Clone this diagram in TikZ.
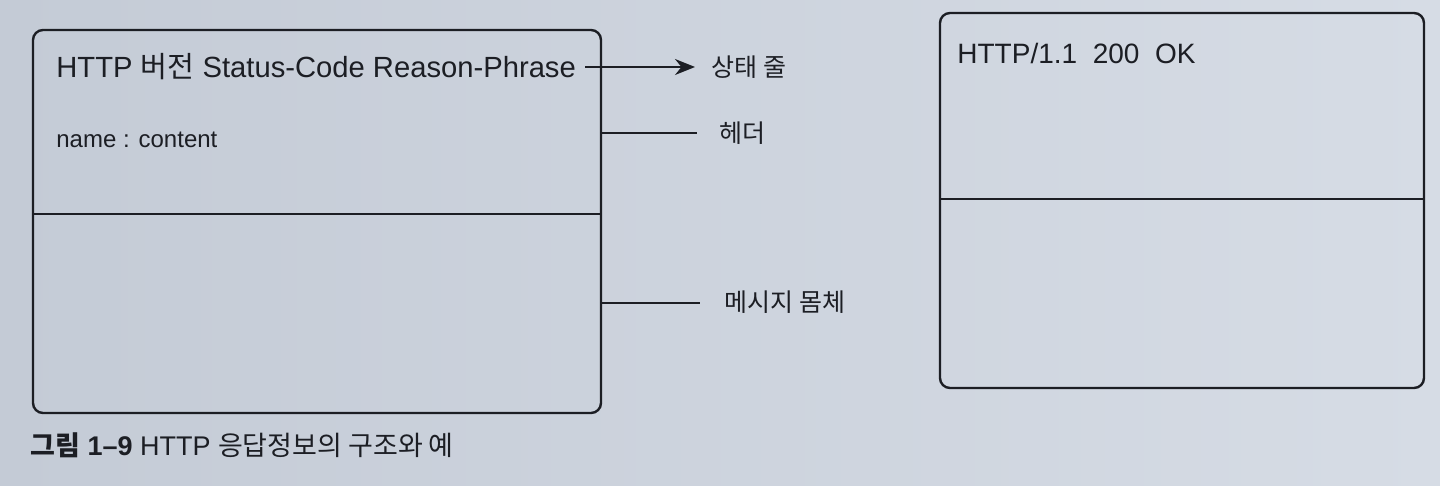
\documentclass[tikz,border=0pt]{standalone}
\usepackage{fontspec}
\setmainfont{Liberation Sans}
\newfontfamily\kr{Noto Sans CJK KR}
\usetikzlibrary{arrows.meta}
\definecolor{paperL}{RGB}{196,203,214}
\definecolor{paperR}{RGB}{214,220,229}
\definecolor{ink}{RGB}{28,30,36}
\tikzset{
  boxline/.style={draw=ink, line width=1.2pt, rounded corners=5pt, rectangle, inner sep=0pt},
  divline/.style={draw=ink, line width=1.2pt},
  conn/.style={draw=ink, line width=1.1pt},
  arrowconn/.style={conn, -{Stealth[length=10pt,width=8pt]}},
  maintext/.style={text=ink, font=\fontsize{14.6}{17}\selectfont, anchor=west, inner sep=0pt},
  extext/.style={text=ink, font=\fontsize{14}{16}\selectfont, anchor=west, inner sep=0pt},
  smalltext/.style={text=ink, font=\fontsize{12}{14}\selectfont, anchor=west, inner sep=0pt},
  labeltext/.style={text=ink, font=\kr\fontsize{12.5}{15}\selectfont, anchor=west, inner sep=0pt},
  captext/.style={text=ink, font=\fontsize{13.5}{16}\selectfont, anchor=west, inner sep=0pt},
}
\begin{document}
\begin{tikzpicture}[x=0.5pt,y=-0.5pt]
  \shade[left color=paperL, right color=paperR] (0,0) rectangle (1440,486);
  \useasboundingbox (0,0) rectangle (1440,486);

  % left box
  \node[boxline, minimum width=284pt, minimum height=191.5pt] (L) at (317,221.5) {};
  \coordinate (Ldl) at (33,214);
  \coordinate (Ldr) at (601,214);
  \draw[divline] (Ldl) -- (Ldr);

  % right box
  \node[boxline, minimum width=242pt, minimum height=187.5pt] (R) at (1182,200.5) {};
  \coordinate (Rdl) at (940,199);
  \coordinate (Rdr) at (1424,199);
  \draw[divline] (Rdl) -- (Rdr);

  % texts in boxes
  \node[maintext] (status) at (56,67) {HTTP {\kr 버전} Status-Code Reason-Phrase};
  \node[smalltext] (hdr) at (56,140) {name : content};
  \node[extext] (ex) at (957,53) {HTTP/1.1\ \ 200\ \ OK};

  % labels
  \node[labeltext] (lstatus) at (711,67) {상태 줄};
  \node[labeltext] (lheader) at (719,133) {헤더};
  \node[labeltext] (lbody) at (724,302) {메시지 몸체};

  % connectors
  \coordinate (sA) at (585,67);
  \draw[arrowconn] (sA) -- ([xshift=-8pt]lstatus.west);
  \coordinate (hA) at (601,133);
  \draw[conn] (hA) -- ([xshift=-11pt]lheader.west);
  \coordinate (bA) at (601,303);
  \draw[conn] (bA) -- ([xshift=-12pt]lbody.west |- bA);

  % caption
  \node[captext] (cap) at (30,445) {{\kr\bfseries 그림} \textbf{1–9} HTTP {\kr 응답정보의 구조와 예}};
\end{tikzpicture}
\end{document}
